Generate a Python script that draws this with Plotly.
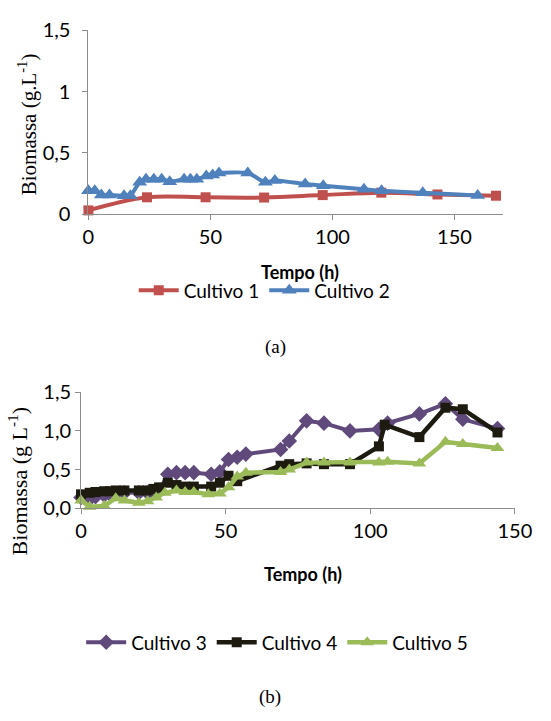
import plotly.graph_objects as go

# ---- data: chart (a) ----
t1 = [0, 24, 48, 72, 96, 120, 143, 167]
c1 = [0.03, 0.137, 0.137, 0.135, 0.155, 0.175, 0.16, 0.15]

t2 = [0, 2.6, 5.3, 8.6, 14.6, 17.2, 21, 23.6, 26.8, 30, 33.3, 39.2, 41.8, 44.4,
      48.3, 50.9, 53.5, 65.3, 72.5, 76.4, 88.8, 96.2, 112.9, 120.1, 137, 159.5]
c2 = [0.19, 0.19, 0.155, 0.155, 0.15, 0.15, 0.26, 0.285, 0.285, 0.285, 0.265, 0.285, 0.285, 0.285,
      0.31, 0.32, 0.335, 0.335, 0.26, 0.275, 0.245, 0.232, 0.203, 0.19, 0.174, 0.152]

# ---- data: chart (b) ----
t3 = [0, 3, 5, 8, 10, 12, 15, 20, 23, 25, 27, 30, 33, 36, 39, 45, 48, 51, 54, 57,
      69, 72, 78, 84, 93, 103, 106, 117, 126, 132, 144]
c3 = [0.14, 0.12, 0.15, 0.17, 0.18, 0.19, 0.2, 0.2, 0.2, 0.21, 0.22, 0.44, 0.46, 0.46, 0.46, 0.44, 0.47, 0.63, 0.66, 0.7,
      0.76, 0.87, 1.13, 1.1, 1.0, 1.02, 1.1, 1.22, 1.35, 1.15, 1.03]

t4 = [0, 3, 5, 8, 10, 12, 15, 20, 23, 25, 27, 30, 33, 36, 39, 45, 48, 51, 54,
      69, 72, 78, 84, 93, 103, 105, 117, 126, 132, 144]
c4 = [0.18, 0.2, 0.21, 0.22, 0.22, 0.23, 0.23, 0.23, 0.23, 0.25, 0.27, 0.33, 0.3, 0.28, 0.28, 0.28, 0.33, 0.42, 0.35,
      0.55, 0.57, 0.58, 0.57, 0.57, 0.8, 1.08, 0.92, 1.3, 1.28, 0.98]

t5 = [0, 3, 8, 12, 15, 20, 23, 26, 29, 33, 36, 39, 44, 48, 51, 54, 57,
      69, 72, 78, 84, 93, 103, 106, 117, 126, 132, 144]
c5 = [0.1, 0.02, 0.03, 0.13, 0.1, 0.07, 0.09, 0.14, 0.2, 0.23, 0.21, 0.21, 0.18, 0.19, 0.27, 0.41, 0.46,
      0.47, 0.5, 0.59, 0.59, 0.59, 0.59, 0.6, 0.58, 0.86, 0.83, 0.78]

names_a = ["Cultivo 1", "Cultivo 2"]
names_b = ["Cultivo 3", "Cultivo 4", "Cultivo 5"]
xticks = [0, 50, 100, 150]
yticks = [0, 0.5, 1, 1.5]
yticklabels_a = ["0", "0,5", "1", "1,5"]
yticklabels_b = ["0,0", "0,5", "1,0", "1,5"]

W, H = 551, 721
SANS = "Lato"
SERIF = "Liberation Serif"

fig = go.Figure()

fig.add_trace(go.Scatter(x=t1, y=c1, name=names_a[0], mode="lines+markers",
                         line=dict(color="#C0504D", width=4, shape="spline"),
                         marker=dict(symbol="square", size=10, color="#C0504D"),
                         xaxis="x", yaxis="y", legend="legend", cliponaxis=False))
fig.add_trace(go.Scatter(x=t2, y=c2, name=names_a[1], mode="lines+markers",
                         line=dict(color="#4F81BD", width=4, shape="spline", smoothing=0.6),
                         marker=dict(symbol="triangle-up", size=13, color="#4F81BD"),
                         xaxis="x", yaxis="y", legend="legend", cliponaxis=False))

fig.add_trace(go.Scatter(x=t3, y=c3, name=names_b[0], mode="lines+markers",
                         line=dict(color="#604A7B", width=4),
                         marker=dict(symbol="diamond", size=12, color="#604A7B"),
                         xaxis="x2", yaxis="y2", legend="legend2", cliponaxis=False))
fig.add_trace(go.Scatter(x=t4, y=c4, name=names_b[1], mode="lines+markers",
                         line=dict(color="#1D1B10", width=4.5),
                         marker=dict(symbol="square", size=10, color="#1D1B10"),
                         xaxis="x2", yaxis="y2", legend="legend2", cliponaxis=False))
fig.add_trace(go.Scatter(x=t5, y=c5, name=names_b[2], mode="lines+markers",
                         line=dict(color="#9BBB59", width=4.5),
                         marker=dict(symbol="triangle-up", size=12, color="#9BBB59"),
                         xaxis="x2", yaxis="y2", legend="legend2", cliponaxis=False))

axis_common = dict(showline=True, linecolor="#8C8C8C", linewidth=1, ticks="outside",
                   ticklen=5, tickcolor="#8C8C8C", showgrid=False, zeroline=False,
                   tickfont=dict(family=SANS, size=20, color="#000000"))

fig.update_layout(
    width=W, height=H, margin=dict(l=0, r=0, t=0, b=0),
    paper_bgcolor="white", plot_bgcolor="white", showlegend=True,
    xaxis=dict(domain=[86 / W, 519 / W], range=[0, 170], tickvals=xticks,
               anchor="y", **axis_common),
    yaxis=dict(domain=[1 - 208 / H, 1 - 18 / H], range=[0, 1.5], tickvals=yticks,
               ticktext=yticklabels_a, anchor="x", ticklabelstandoff=8, **axis_common),
    xaxis2=dict(domain=[78.3 / W, 531 / W], range=[0, 150], tickvals=xticks,
                anchor="y2", **axis_common),
    yaxis2=dict(domain=[1 - 512.3 / H, 1 - 392.3 / H], range=[0, 1.5], tickvals=yticks,
                ticktext=yticklabels_b, anchor="x2", **axis_common),
    legend=dict(orientation="h", x=270 / W, y=1 - 287 / H, xanchor="center", yanchor="middle",
                font=dict(family=SANS, size=19, color="#000000"), bgcolor="rgba(0,0,0,0)",
                itemwidth=40),
    legend2=dict(orientation="h", x=283 / W, y=1 - 651 / H, xanchor="center", yanchor="middle",
                 font=dict(family=SANS, size=19, color="#000000"), bgcolor="rgba(0,0,0,0)",
                 itemwidth=40),
)

annots = [
    dict(text="<b>Tempo (h)</b>", x=307 / W, y=1 - 268 / H, font=dict(family=SANS, size=18)),
    dict(text="<b>Tempo (h)</b>", x=310 / W, y=1 - 580 / H, font=dict(family=SANS, size=18)),
    dict(text="Biomassa (g.L<sup>-1</sup>)", x=22 / W, y=1 - 115 / H, textangle=-90,
         font=dict(family=SERIF, size=21)),
    dict(text="Biomassa (g L<sup>-1</sup>)", x=12 / W, y=1 - 484 / H, textangle=-90,
         font=dict(family=SERIF, size=22)),
    dict(text="(a)", x=281 / W, y=1 - 345 / H, font=dict(family=SERIF, size=19)),
    dict(text="(b)", x=275 / W, y=1 - 708 / H, font=dict(family=SERIF, size=19)),
]
for a in annots:
    a.update(xref="paper", yref="paper", showarrow=False, xanchor="center", yanchor="middle")
    a["font"]["color"] = "#000000"
fig.update_layout(annotations=annots)

fig.write_html("out.html", config={"displayModeBar": False},
               post_script="document.body.style.margin='0';document.body.style.overflow='hidden';")
